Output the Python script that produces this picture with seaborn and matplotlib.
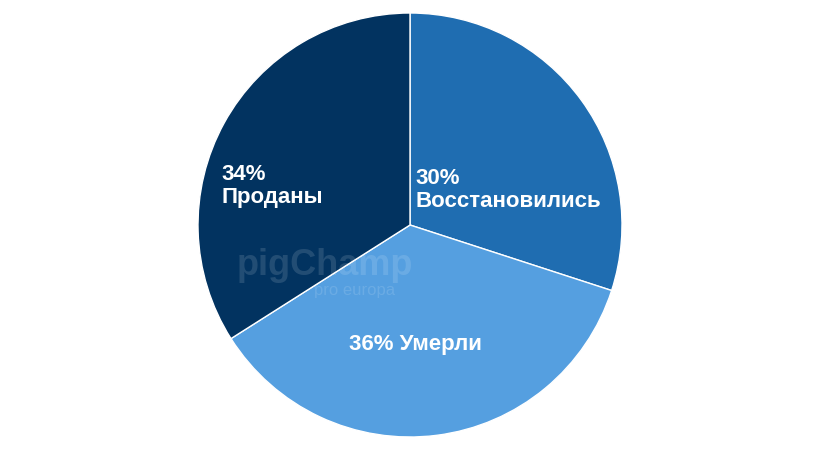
import matplotlib
matplotlib.use("Agg")
import matplotlib.pyplot as plt
import seaborn as sns

# data
categories = ["Восстановились", "Умерли", "Проданы"]
shares = [30, 36, 34]
colors = ["#1F6DB1", "#559FE0", "#023360"]

# label placement (data coords, pie radius = 1)
label_pos = {
    "Восстановились": (0.025, 0.165, "left"),
    "Умерли": (0.025, -0.566, "center"),
    "Проданы": (-0.89, 0.184, "left"),
}

sns.set_theme(style="white")
plt.rcParams["font.family"] = ["Liberation Sans", "DejaVu Sans"]

fig = plt.figure(figsize=(8.2, 4.62), dpi=100)
ax = fig.add_axes([198 / 820, 25 / 462, 424 / 820, 424 / 462])

ax.pie(
    shares,
    colors=colors,
    startangle=90,
    counterclock=False,
    radius=1.0,
    wedgeprops={"edgecolor": "white", "linewidth": 1.0},
)

# faint watermark
ax.text(-0.40, -0.19, "pigChamp", color="white", alpha=0.13, fontsize=26,
        fontweight="bold", ha="center", va="center")
ax.text(-0.26, -0.31, "pro europa", color="white", alpha=0.13, fontsize=12,
        ha="center", va="center")

for cat, val in zip(categories, shares):
    x, y, ha = label_pos[cat]
    if cat == "Умерли":
        txt = f"{val}% {cat}"
    else:
        txt = f"{val}%\n{cat}"
    ax.text(x, y, txt, color="white", fontsize=16, fontweight="bold",
            ha=ha, va="center", linespacing=1.1)

ax.set_xlim(-1, 1)
ax.set_ylim(-1, 1)
ax.set_aspect("equal")
ax.axis("off")

fig.savefig("out.png", dpi=100, facecolor="white")
plt.close(fig)
